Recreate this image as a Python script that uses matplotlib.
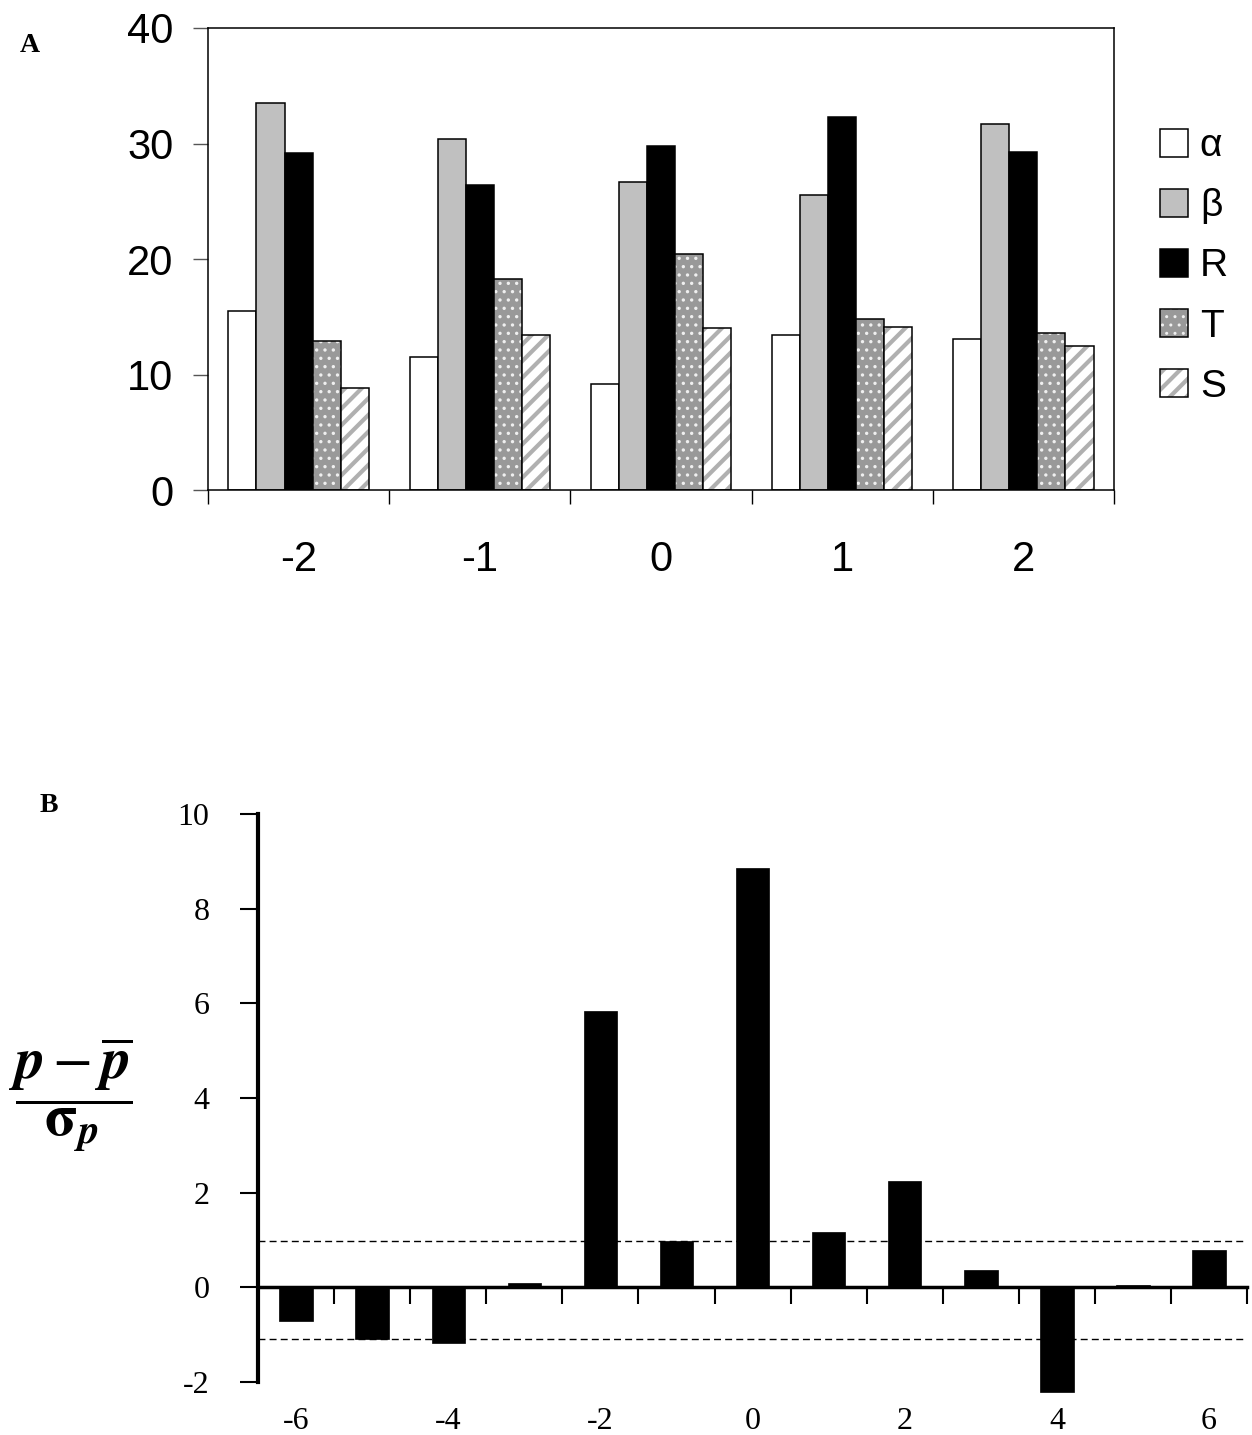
import numpy as np
import matplotlib
matplotlib.use("Agg")
import matplotlib.pyplot as plt
from matplotlib.patches import Patch
from matplotlib.legend_handler import HandlerTuple

# Panel A data
groups = ["-2", "-1", "0", "1", "2"]
series_names = ["α", "β", "R", "T", "S"]
alpha_vals = [15.5, 11.5, 9.2, 13.4, 13.1]
beta_vals = [33.5, 30.4, 26.7, 25.5, 31.7]
r_vals = [29.2, 26.4, 29.8, 32.3, 29.3]
t_vals = [12.9, 18.3, 20.4, 14.8, 13.6]
s_vals = [8.8, 13.4, 14.0, 14.1, 12.5]

# Panel B data
b_x = [-6, -5, -4, -3, -2, -1, 0, 1, 2, 3, 4, 5, 6]
b_vals = [-0.72, -1.1, -1.18, 0.1, 5.83, 0.97, 8.87, 1.18, 2.24, 0.36, -2.22, 0.06, 0.78]
b_upper = 0.97
b_lower = -1.1

plt.rcParams['mathtext.fontset'] = 'stix'
plt.rcParams['axes.unicode_minus'] = False
sans = ['Liberation Sans Narrow', 'Liberation Sans', 'DejaVu Sans']
serif = ['Liberation Serif', 'DejaVu Serif']

fig = plt.figure(figsize=(12.52, 14.35), dpi=100)

# ---------------- Panel A ----------------
axA = fig.add_axes([0.1661, 0.6585, 0.7236, 0.3220])
styles = [
    dict(fc='white', hatch=None, hc=None, hlw=1),
    dict(fc='#c0c0c0', hatch=None, hc=None, hlw=1),
    dict(fc='black', hatch=None, hc=None, hlw=1),
    dict(fc='#999999', hatch='..', hc='#f0f0f0', hlw=1.2),
    dict(fc='white', hatch='//', hc='#b0b0b0', hlw=3.0),
]
all_vals = [alpha_vals, beta_vals, r_vals, t_vals, s_vals]
x = np.arange(len(groups))
w = 0.155
handles = []
for i, (vals, st) in enumerate(zip(all_vals, styles)):
    pos = x + (i - 2) * w
    if st['hatch']:
        with plt.rc_context({'hatch.linewidth': st['hlw']}):
            axA.bar(pos, vals, w, color=st['fc'], hatch=st['hatch'],
                    edgecolor=st['hc'], linewidth=0)
            fill = Patch(facecolor=st['fc'], hatch=st['hatch'], edgecolor=st['hc'], linewidth=0)
        axA.bar(pos, vals, w, facecolor='none', edgecolor='black', linewidth=1.1)
        h = (fill, Patch(facecolor='none', edgecolor='black', linewidth=1.1))
    else:
        axA.bar(pos, vals, w, color=st['fc'], edgecolor='black', linewidth=1.1)
        h = Patch(facecolor=st['fc'], edgecolor='black', linewidth=1.1)
    handles.append(h)

axA.set_xlim(-0.5, 4.5)
axA.set_ylim(0, 40)
axA.set_yticks([0, 10, 20, 30, 40])
axA.set_xticks(x)
axA.set_xticklabels(groups)
axA.set_xticks(np.arange(-0.5, 5.0, 1.0), minor=True)
axA.tick_params(axis='x', which='major', length=0, pad=36)
axA.tick_params(axis='x', which='minor', length=10, width=1, direction='out')
axA.tick_params(axis='y', length=11, width=1, direction='out', pad=14, color='#555555')
for lab in axA.get_xticklabels() + axA.get_yticklabels():
    lab.set_family(sans)
    lab.set_fontsize(30)
for sp in axA.spines.values():
    sp.set_linewidth(1.1)

leg = axA.legend(handles, series_names, loc='upper left', bbox_to_anchor=(1.051, 0.783),
                 frameon=False, borderaxespad=0, borderpad=0,
                 handlelength=0.72, handleheight=0.72, handletextpad=0.3,
                 labelspacing=0.62, prop={'family': sans, 'size': 28},
                 handler_map={tuple: HandlerTuple(ndivide=1, pad=0)})
# thicker stripes for the S legend box
for p in leg.findobj(Patch):
    if p.get_hatch() == '//' and hasattr(p, 'set_hatch_linewidth'):
        p.set_hatch_linewidth(3.0)

fig.text(20 / 1252, 1 - 45 / 1435, "A", fontsize=20, fontweight='bold',
         family=serif, va='center', ha='left')

# ---------------- Panel B ----------------
axB = fig.add_axes([0.2061, 0.0270, 0.7900, 0.4057])
axB.bar(b_x, b_vals, 0.44, color='black', edgecolor='black', linewidth=0.5)
axB.axhline(b_upper, color='black', lw=1.0, ls=(0, (5, 3)), zorder=0.5)
axB.axhline(b_lower, color='black', lw=1.0, ls=(0, (5, 3)), zorder=0.5)
axB.set_xlim(-6.5, 6.5)
axB.set_ylim(-2.3, 10)
axB.spines['top'].set_visible(False)
axB.spines['right'].set_visible(False)
axB.spines['bottom'].set_position(('data', 0))
axB.spines['bottom'].set_linewidth(2.5)
axB.spines['left'].set_linewidth(3.0)
axB.spines['left'].set_bounds(-2, 10)
axB.set_yticks([-2, 0, 2, 4, 6, 8, 10])
axB.set_xticks([-6, -4, -2, 0, 2, 4, 6])
axB.set_xticks(np.arange(-5.5, 7.0, 1.0), minor=True)
axB.tick_params(axis='x', which='major', length=0, pad=86)
axB.tick_params(axis='x', which='minor', length=12, width=1.5, direction='out')
axB.tick_params(axis='y', length=13, width=1.5, direction='out', pad=22)
for lab in axB.get_xticklabels() + axB.get_yticklabels():
    lab.set_family(serif)
    lab.set_fontsize(23)

fig.text(70 / 1252, 1 - 1095 / 1435,
         r'$\dfrac{\mathbfit{p}-\overline{\mathbfit{p}}}{\mathbf{\sigma}_{\mathbfit{p}}}$',
         fontsize=42, ha='center', va='center')
fig.text(40 / 1252, 1 - 805 / 1435, "B", fontsize=20, fontweight='bold',
         family=serif, va='center', ha='left')

fig.savefig("out.png", dpi=100)
